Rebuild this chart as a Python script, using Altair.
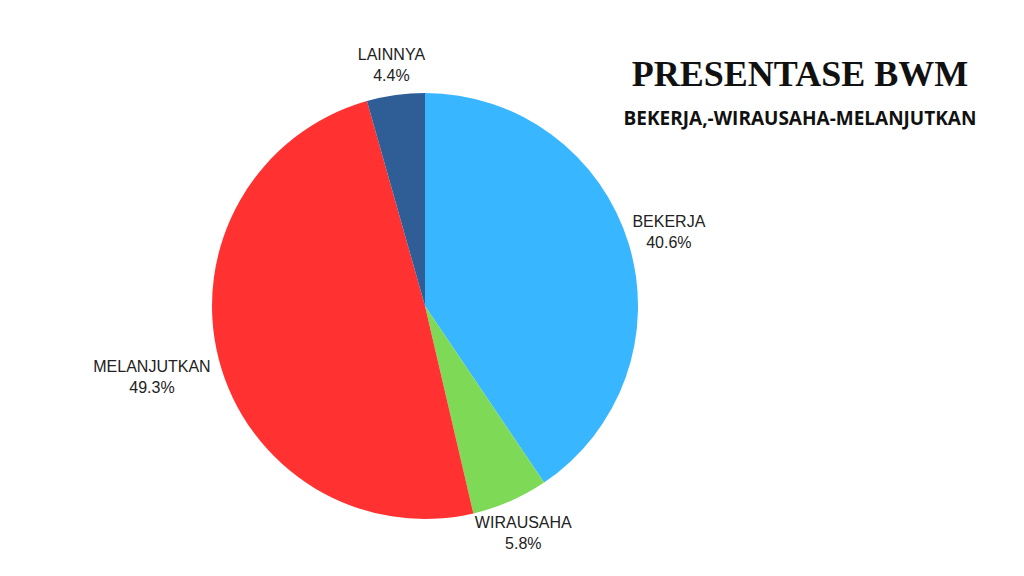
import altair as alt
import pandas as pd

categories = ["BEKERJA", "WIRAUSAHA", "MELANJUTKAN", "LAINNYA"]
percentages = [40.6, 5.8, 49.3, 4.4]
colors = ["#38B6FF", "#7ED957", "#FF3131", "#2F5E96"]

df = pd.DataFrame({
    "cat": categories,
    "pct": percentages,
    "idx": list(range(len(categories))),
})

color_scale = alt.Scale(domain=categories, range=colors)

pie = alt.Chart(df).mark_arc(outerRadius=213, stroke=None).encode(
    theta=alt.Theta("pct:Q", stack=True),
    order=alt.Order("idx:Q"),
    color=alt.Color("cat:N", scale=color_scale, legend=None),
)

labels = alt.Chart(df).transform_joinaggregate(
    total="sum(pct)"
).transform_window(
    cum="sum(pct)", sort=[alt.SortField("idx", order="ascending")]
).transform_calculate(
    mid="(datum.cum - datum.pct / 2) / datum.total * 2 * PI",
    label="datum.cat + '\\n' + format(datum.pct, '.1f') + '%'",
    lr="datum.cat == 'MELANJUTKAN' ? 282 : (datum.cat == 'BEKERJA' ? 255 : (datum.cat == 'WIRAUSAHA' ? 246 : 244))",
).mark_text(
    lineBreak="\n", font="Liberation Sans", fontSize=16, color="#222222",
    align="center", baseline="middle", lineHeight=21, dy=-9,
).encode(
    theta=alt.Theta("mid:Q", scale=None),
    radius=alt.Radius("lr:Q", scale=None),
    text="label:N",
)

chart = alt.layer(pie, labels).properties(
    width=834,
    height=300,
    padding={"left": 0, "top": 148, "right": 170, "bottom": 104},
    autosize=alt.AutoSizeParams(type="none"),
    title=alt.TitleParams(
        "PRESENTASE BWM",
        subtitle="BEKERJA,-WIRAUSAHA-MELANJUTKAN",
        anchor="middle",
        frame="group",
        dx=375,
        dy=105,
        offset=22,
        font="Liberation Serif",
        fontSize=36,
        fontWeight="bold",
        color="#111111",
        subtitleFont="Open Sans",
        subtitleFontSize=19,
        subtitleFontWeight="bold",
        subtitleColor="#111111",
        subtitlePadding=16,
    ),
).configure_view(stroke=None).configure(background="white")

chart.save("out.html", embed_options={"renderer": "svg", "actions": False})
